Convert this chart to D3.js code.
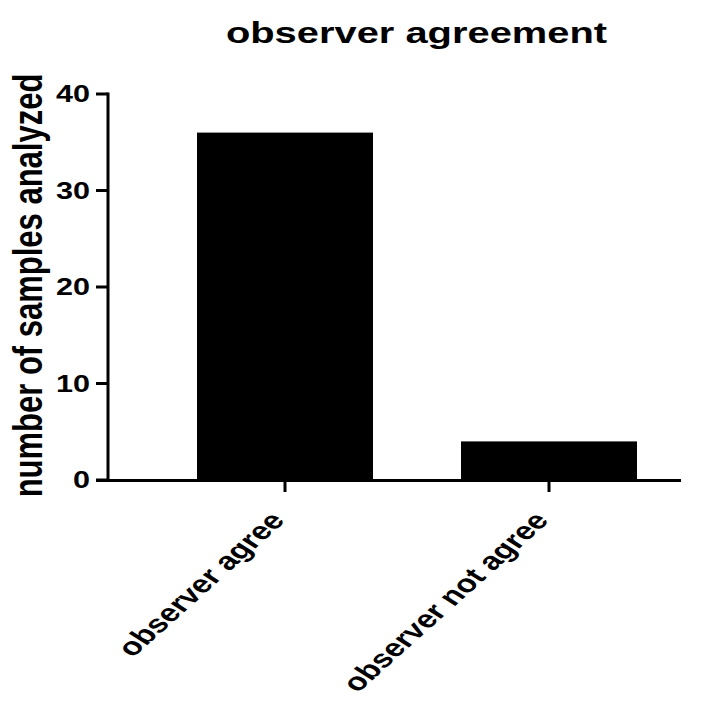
<!DOCTYPE html>
<html>
<head>
<meta charset="utf-8">
<script src="https://cdn.jsdelivr.net/npm/d3@7"></script>
<style>
  html, body { margin: 0; padding: 0; background: #fff; }
  svg { display: block; }
  text { font-family: "Liberation Sans", Arial, sans-serif; font-weight: bold; fill: #000; }
</style>
</head>
<body>
<svg id="chart" width="718" height="703"></svg>
<script>
const categories = ["observer agree", "observer not agree"];
const values = [36, 4];
const yTicks = [0, 10, 20, 30, 40];
const title = "observer agreement";
const yTitle = "number of samples analyzed";

const W = 718, H = 703;
const SX = 1.33; // horizontal stretch of the original rendering
const svg = d3.select("#chart");

const x = d3.scaleBand().domain(categories).range([153, 681]).paddingInner(1/3).paddingOuter(1/6);
const y = d3.scaleLinear().domain([0, 40]).range([480, 94]);

// bars
svg.selectAll("rect.bar").data(values).enter().append("rect")
  .attr("class", "bar")
  .attr("x", (d, i) => x(categories[i]))
  .attr("width", x.bandwidth())
  .attr("y", d => y(d))
  .attr("height", d => y(0) - y(d))
  .attr("fill", "#000");

// y axis
const yAxisX = 108;
svg.append("line").attr("x1", yAxisX).attr("x2", yAxisX).attr("y1", y(40) - 1.5).attr("y2", y(0) + 1.5)
  .attr("stroke", "#000").attr("stroke-width", 3);
svg.selectAll("line.ytick").data(yTicks).enter().append("line")
  .attr("class", "ytick")
  .attr("x1", 96).attr("x2", yAxisX).attr("y1", d => y(d)).attr("y2", d => y(d))
  .attr("stroke", "#000").attr("stroke-width", 3);
svg.selectAll("text.ylab").data(yTicks).enter().append("text")
  .attr("class", "ylab")
  .attr("text-anchor", "end")
  .attr("font-size", 23)
  .attr("transform", d => `translate(90,${y(d) + 8.2}) scale(${SX},1)`)
  .text(d => d);

// x axis
svg.append("line").attr("x1", 96).attr("x2", 681).attr("y1", y(0) + 0.5).attr("y2", y(0) + 0.5)
  .attr("stroke", "#000").attr("stroke-width", 3);
svg.selectAll("line.xtick").data(categories).enter().append("line")
  .attr("class", "xtick")
  .attr("x1", d => x(d) + x.bandwidth() / 2).attr("x2", d => x(d) + x.bandwidth() / 2)
  .attr("y1", y(0)).attr("y2", y(0) + 12)
  .attr("stroke", "#000").attr("stroke-width", 3);
svg.selectAll("text.xlab").data(categories).enter().append("text")
  .attr("class", "xlab")
  .attr("text-anchor", "end")
  .attr("font-size", 25)
  .attr("transform", d => `translate(${x(d) + x.bandwidth() / 2 + 1},521) scale(${SX},1) rotate(-50)`)
  .text(d => d);

// title
svg.append("text")
  .attr("text-anchor", "middle")
  .attr("font-size", 30)
  .attr("transform", `translate(416.5,43) scale(${SX},1)`)
  .text(title);

// y title
svg.append("text")
  .attr("text-anchor", "middle")
  .attr("font-size", 31)
  .attr("transform", `translate(42,285.5) scale(${SX},1) rotate(-90)`)
  .text(yTitle);
</script>
</body>
</html>
